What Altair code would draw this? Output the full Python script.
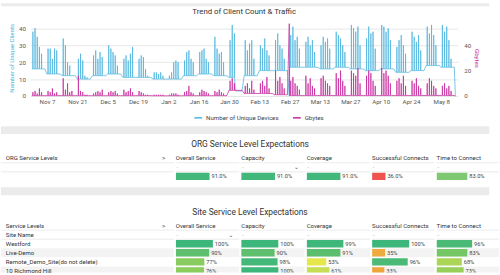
import altair as alt
import pandas as pd

FONT = "Roboto"
BLUE = "#4ab4de"
MAGENTA = "#c4249b"
TXT = "#333333"
GAP_GRAY = "#ebebeb"
OFF = 30  # left overhang shared by every stacked panel (room for the left axis)

# ---------------- Trend of client count & traffic (readings per week) ----------------
week_starts = [
    "2022-10-31", "2022-11-07", "2022-11-14", "2022-11-21", "2022-11-28", "2022-12-05",
    "2022-12-12", "2022-12-19", "2022-12-26", "2023-01-02", "2023-01-09", "2023-01-16",
    "2023-01-23", "2023-01-30", "2023-02-06", "2023-02-13", "2023-02-20", "2023-02-27",
    "2023-03-06", "2023-03-13", "2023-03-20", "2023-03-27", "2023-04-03", "2023-04-10",
    "2023-04-17", "2023-04-24", "2023-05-01", "2023-05-08",
]
client_base = [16, 13, 12, 10, 12, 13, 11, 11, 10, 10, 12, 13, 12, 11,
               12, 15, 15, 17, 17, 16, 17, 16, 15, 16, 14, 15, 18, 17]
client_peaks = [
    [38, 40, 35, 29, 25], [28, 28, 22, 28, 27], [34, 30, 20, 18, 12], [22, 25, 21, 12, 11],
    [24, 27, 22, 26, 23], [30, 28, 26, 24, 18], [22, 24, 21, 25, 29], [22, 24, 23, 16, 12],
    [14, 14, 13, 14, 12], [12, 14, 20, 21, 20], [21, 26, 27, 22, 20], [26, 27, 28, 22, 20],
    [35, 28, 25, 26, 20], [33, 42, 37, 3, 3], [33, 27, 31, 33, 22], [30, 28, 34, 27, 24],
    [33, 37, 30, 28, 22], [36, 41, 33, 35, 28], [32, 35, 30, 33, 26], [30, 35, 32, 34, 28],
    [38, 36, 34, 30, 26], [42, 40, 38, 41, 30], [34, 41, 37, 38, 28], [42, 41, 38, 40, 33],
    [29, 33, 36, 30, 25], [38, 35, 32, 36, 27], [41, 37, 42, 36, 30], [42, 38, 41, 33, 22],
]
gb_base = [0.3, 0.3, 0.3, 0.3, 0.3, 0.3, 0.3, 0.3, 0.2, 0.2, 0.3, 0.3, 0.3, 4.5,
           2.0, 2.0, 1.0, 0.4, 0.4, 0.4, 0.4, 0.4, 0.4, 0.4, 0.4, 0.4, 0.4, 0.4]
gb_peaks = [
    [3, 4, 2, 6, 3], [4, 3, 6, 2, 3], [14, 5, 10, 3, 4], [16, 4, 3, 1, 1],
    [2, 3, 4, 3, 5], [3, 4, 3, 4, 2], [5, 3, 4, 6, 3], [4, 3, 2, 1, 1],
    [1, 1, 1, 1, 1], [1, 2, 2, 2, 1], [3, 4, 8, 3, 2], [3, 5, 4, 3, 2],
    [4, 3, 5, 3, 2], [12, 14, 10, 4, 4], [8, 10, 6, 12, 5], [10, 12, 8, 15, 6],
    [20, 12, 15, 10, 6], [12, 15, 10, 8, 5], [16, 10, 14, 8, 6], [14, 16, 12, 10, 8],
    [18, 14, 20, 12, 8], [20, 18, 16, 22, 10], [16, 20, 18, 12, 8], [22, 18, 20, 16, 10],
    [12, 14, 10, 16, 8], [12, 10, 14, 8, 6], [10, 14, 12, 8, 6], [8, 10, 6, 8, 4],
]
low_days = ["2023-02-02", "2023-02-03", "2023-02-04", "2023-02-05"]
low_day_clients = [3, 3, 3, 3]
event_times = ["2023-02-26T20:00:00", "2023-05-14T12:00:00"]
event_clients = [0, 0]
event_gb = [57, 0]

S1 = "Number of Unique Devices"
S2 = "Gbytes"

recs = []
low_map = dict(zip(low_days, low_day_clients))
for w, ws in enumerate(week_starts):
    start = pd.Timestamp(ws)
    for d in range(7):
        day = start + pd.Timedelta(days=d)
        key = day.strftime("%Y-%m-%d")
        cb = low_map.get(key, client_base[w])
        gbb = gb_base[w]
        pts = [(day, cb, gbb)]
        if d < 5:
            pts += [(day + pd.Timedelta(hours=10), cb, gbb),
                    (day + pd.Timedelta(hours=12), client_peaks[w][d], gb_peaks[w][d]),
                    (day + pd.Timedelta(hours=14), cb, gbb)]
        recs += pts
for t, c, g in zip(event_times, event_clients, event_gb):
    recs.append((pd.Timestamp(t), c, g))
recs.sort(key=lambda r: r[0])
long_rows = []
for t, c, g in recs:
    ts = t.strftime("%Y-%m-%dT%H:%M:%S")
    long_rows.append({"t": ts, "series": S1, "value": c})
    long_rows.append({"t": ts, "series": S2, "value": g})
trend_df = pd.DataFrame(long_rows)

tick_dates = [(2022, 11, 7), (2022, 11, 21), (2022, 12, 5), (2022, 12, 19), (2023, 1, 2),
              (2023, 1, 16), (2023, 1, 30), (2023, 2, 13), (2023, 2, 27), (2023, 3, 13),
              (2023, 3, 27), (2023, 4, 10), (2023, 4, 24), (2023, 5, 8)]

X = alt.X(
    "t:T",
    scale=alt.Scale(domain=[alt.DateTime(year=2022, month=10, date=30, hours=7),
                            alt.DateTime(year=2023, month=5, date=15, hours=17)]),
    axis=alt.Axis(values=[alt.DateTime(year=y, month=m, date=d) for y, m, d in tick_dates],
                  format="%b %-d", title=None, grid=False, ticks=False, domain=False,
                  labelFontSize=6.3, labelFont=FONT, labelColor="#555", labelPadding=3),
)
color = alt.Color("series:N", scale=alt.Scale(domain=[S1, S2], range=[BLUE, MAGENTA]),
                  legend=alt.Legend(title=None, orient="none", legendX=167, legendY=95,
                                    direction="horizontal", symbolType="stroke",
                                    symbolStrokeWidth=1.5, symbolSize=64, labelFontSize=6.3,
                                    labelFont=FONT, labelColor="#444", columnPadding=11,
                                    labelOffset=3))

blue = alt.Chart(trend_df).transform_filter(alt.datum.series == S1).mark_line(strokeWidth=0.75).encode(
    x=X,
    y=alt.Y("value:Q", scale=alt.Scale(domain=[0, 45]),
            axis=alt.Axis(values=[0, 10, 20, 30, 40], grid=True, gridColor="#e6e6e6", domain=False,
                          ticks=False, labelFontSize=6.3, labelFont=FONT, labelColor="#555",
                          labelPadding=5, title="Number of Unique Clients", titleColor=BLUE,
                          titleFontSize=6.2, titleFont=FONT, titleFontWeight="normal", titlePadding=4)),
    color=color,
)
mag = alt.Chart(trend_df).transform_filter(alt.datum.series == S2).mark_line(strokeWidth=0.75).encode(
    x=X,
    y=alt.Y("value:Q", scale=alt.Scale(domain=[0, 60]),
            axis=alt.Axis(orient="right", values=[0, 20, 40], grid=False, domain=False, ticks=False,
                          labelFontSize=6.3, labelFont=FONT, labelColor="#555", labelPadding=6,
                          title="Gbytes", titleColor=MAGENTA, titleFontSize=6.2, titleFont=FONT,
                          titleFontWeight="normal", titlePadding=3)),
    color=color,
)
pad = alt.Chart(pd.DataFrame({"a": [0]})).mark_rule(color="white").encode(
    x=alt.value(-OFF), y=alt.value(0), y2=alt.value(1))

panel1 = alt.layer(blue, mag, pad).resolve_scale(y="independent").properties(
    width=438, height=78,
    title=alt.Title("Trend of Client Count & Traffic", fontSize=8, font=FONT,
                    fontWeight="normal", color=TXT, anchor="middle", offset=4))

# ---------------- Service level tables ----------------
metrics = ["Overall Service", "Capacity", "Coverage", "Successful Connects", "Time to Connect"]
org_values = [91.0, 91.0, 91.0, 36.0, 83.0]
site_names = ["Westford", "Live-Demo", "Remote_Demo_Site(do not delete)", "10 Richmond Hill"]
site_overall = [100, 90, 77, 76]
site_capacity = [100, 90, 98, 100]
site_coverage = [99, 91, 53, 61]
site_success = [100, 35, 96, 33]
site_ttc = [96, 83, 68, 73]

STEP = 9.3
NAME_W = 177 - OFF
COL_W = [65, 65, 65, 64, 64]
BAR_FULL = 38


def make_table(title, row_ids, row_labels, name_header, data_rows, values, fmt, cscale,
               shaded, lined, chevron_metric, visible_h):
    n = len(row_ids)
    full_h = n * STEP
    ysc = alt.Scale(type="band", domain=row_ids, range=[0, full_h], paddingInner=0, paddingOuter=0)
    Y = alt.Y("row:N", scale=ysc, axis=None)
    Yend = alt.Y("row:N", scale=ysc, axis=None, bandPosition=1)
    # row backgrounds on a clamped index scale so the last (partly hidden) row stops at the edge
    qsc = alt.Scale(domain=[0, visible_h / STEP], range=[0, visible_h], clamp=True, nice=False, zero=False)
    base_df = pd.DataFrame({"row": row_ids, "label": row_labels, "shade": shaded, "line": lined,
                            "i": list(range(n)), "i1": list(range(1, n + 1))})
    txt = dict(baseline="middle", fontSize=6.2, font=FONT, color=TXT)

    def background(x0):
        bg = alt.Chart(base_df).mark_rect(strokeWidth=0).encode(
            x=alt.value(x0), x2=alt.value("width"),
            y=alt.Y("i:Q", scale=qsc, axis=None), y2="i1:Q",
            fill=alt.condition("datum.shade", alt.value("#f3f3f3"), alt.value("#ffffff")))
        ln = alt.Chart(base_df).transform_filter("datum.line").mark_rule(
            color="#e2e2e2", strokeWidth=0.7).encode(
            x=alt.value(x0), x2=alt.value("width"), y=Yend)
        return [bg, ln]

    hdr_df = pd.DataFrame({"row": [row_ids[0]], "t": [name_header], "a": [">"]})
    name_chart = alt.layer(
        *background(-OFF),
        alt.Chart(hdr_df).mark_text(align="left", **txt).encode(x=alt.value(5 - OFF), y=Y, text="t:N"),
        alt.Chart(hdr_df).mark_text(align="left", **txt).encode(x=alt.value(165 - OFF), y=Y, text="a:N"),
        alt.Chart(base_df).mark_text(align="left", **txt).encode(x=alt.value(5 - OFF), y=Y, text="label:N"),
    ).resolve_scale(y="independent").properties(width=NAME_W, height=visible_h)

    cols = []
    for j, m in enumerate(metrics):
        vdf = pd.DataFrame({"row": data_rows, "v": values[j]})
        mdf = pd.DataFrame({"row": [row_ids[0]], "t": [m]})
        fdf = pd.DataFrame({"row": [row_ids[1]], "d": ["-"], "c": ["\u2304"]})
        xs = alt.X("v:Q", scale=alt.Scale(domain=[0, 100], range=[0, BAR_FULL]), axis=None)
        layers = background(0) + [
            alt.Chart(mdf).mark_text(align="left", **txt).encode(x=alt.value(0), y=Y, text="t:N"),
            alt.Chart(fdf).mark_text(align="left", baseline="middle", fontSize=5, font=FONT,
                                     color="#999").encode(x=alt.value(1), y=Y, text="d:N"),
            alt.Chart(vdf).mark_bar(size=7.6, clip=True).encode(
                x=xs, y=Y, color=alt.Color("v:Q", scale=cscale, legend=None)),
            alt.Chart(vdf).transform_calculate(lbl=f"format(datum.v, '{fmt}') + '%'").mark_text(
                align="left", dx=2, baseline="middle", fontSize=5.8, font=FONT,
                color="#444", clip=True).encode(x=xs, y=Y, text="lbl:N"),
        ]
        if m == chevron_metric:
            layers.append(alt.Chart(fdf).mark_text(align="left", baseline="middle", fontSize=6,
                                                   font="DejaVu Sans", color="#666").encode(
                x=alt.value(54), y=Y, text="c:N"))
        cols.append(alt.layer(*layers).resolve_scale(y="independent").properties(
            width=COL_W[j], height=visible_h))

    return alt.hconcat(name_chart, *cols, spacing=0).properties(
        title=alt.Title(title, fontSize=8.6, font=FONT, fontWeight="normal", color=TXT,
                        anchor="middle", offset=5))


org_scale = alt.Scale(domain=[36, 83, 91], range=["#ef5350", "#7dc870", "#42b77b"], interpolate="rgb")
site_scale = alt.Scale(domain=[30, 53, 75, 100], range=["#f29b3a", "#e6e74b", "#8fcd5b", "#3db67b"],
                       interpolate="rgb")

org = make_table(
    "ORG Service Level Expectations", ["h", "f", "ORG"], ["", "", ""], "ORG Service Levels",
    ["ORG"], [[v] for v in org_values], ".1f", org_scale,
    [False, False, False], [True, True, False], "Capacity", 3 * STEP)

site = make_table(
    "Site Service Level Expectations", ["h", "Site Name"] + site_names, ["", "Site Name"] + site_names,
    "Service Levels", site_names,
    [site_overall, site_capacity, site_coverage, site_success, site_ttc], ".0f", site_scale,
    [False, False, False, True, False, True], [True, True, False, False, False, False],
    "Overall Service", 52.7)


def spacer(h, g0, g1):
    d = pd.DataFrame({"a": [0]})
    white = alt.Chart(d).mark_rect(color="white").encode(
        x=alt.value(-OFF), x2=alt.value("width"), y=alt.value(0), y2=alt.value("height"))
    gray = alt.Chart(d).mark_rect(color=GAP_GRAY).encode(
        x=alt.value(-OFF), x2=alt.value("width"), y=alt.value(g0), y2=alt.value(g1))
    return alt.layer(white, gray).properties(width=500 - OFF, height=h)


chart = alt.vconcat(
    spacer(4, 0, 3), panel1, spacer(19, 5, 13), org, spacer(26.2, 6.5, 14.5), site, spacing=0
).properties(padding=0, background="white").configure_view(strokeWidth=0)

chart.save("out.html", embed_options={"renderer": "svg", "actions": False})
